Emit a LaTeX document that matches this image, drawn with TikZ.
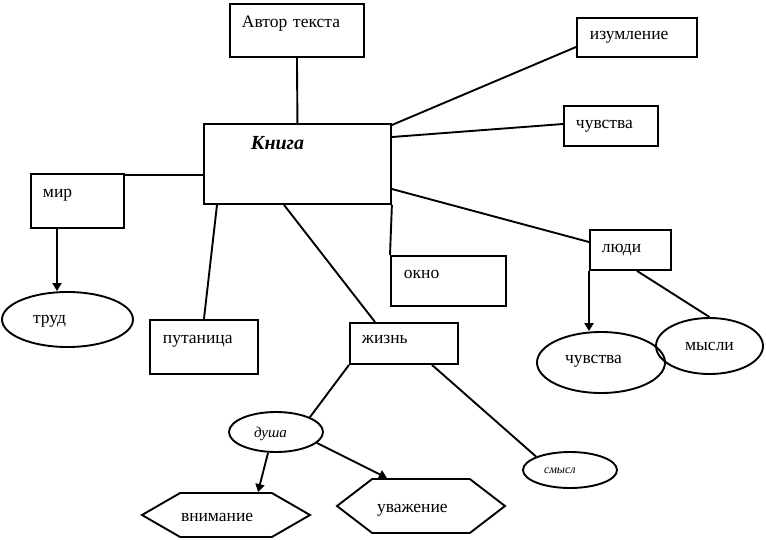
\documentclass[tikz,border=0pt]{standalone}
\usepackage{fontspec}
\setmainfont{Liberation Serif}
\usetikzlibrary{shapes.geometric,shapes.symbols,arrows.meta}
\begin{document}
\begin{tikzpicture}[x=1pt,y=-1pt,
  every node/.style={font=\fontsize{17.5}{20}\selectfont},
  tbox/.style={draw, rectangle, anchor=north west, inner ysep=0pt, align=left, line width=1.9pt},
  oval/.style={draw, ellipse, inner sep=0pt, line width=1.9pt},
  hexa/.style={draw, signal, signal to=west and east, inner sep=0pt, line width=1.9pt},
  conn/.style={line width=1.9pt},
  arr/.style={conn, -{Triangle[length=8pt,width=9pt]}}]
\useasboundingbox (0,0) rectangle (766,539);
% boxes
\node[tbox, inner xsep=12pt, text width=110pt, text height=24pt, text depth=29pt] (autor) at (229,3) {Автор текста};
\node[tbox, inner xsep=47pt, text width=93pt, text height=26pt, text depth=54pt, font=\fontsize{20}{24}\selectfont\bfseries\itshape] (kniga) at (203,123) {Книга};
\node[tbox, inner xsep=12pt, text width=69pt, text height=24pt, text depth=30pt] (mir) at (30,173) {мир};
\node[tbox, inner xsep=13pt, text width=94pt, text height=22pt, text depth=17pt] (izum) at (576,17) {изумление};
\node[tbox, inner xsep=12pt, text width=70pt, text height=23pt, text depth=17pt] (chuv) at (563,105) {чувства};
\node[tbox, inner xsep=12pt, text width=57pt, text height=23pt, text depth=17pt] (lyudi) at (589,229) {люди};
\node[tbox, inner xsep=13pt, text width=89pt, text height=23pt, text depth=27pt] (okno) at (390,255) {окно};
\node[tbox, inner xsep=13pt, text width=82pt, text height=24pt, text depth=30pt] (putan) at (149,319) {путаница};
\node[tbox, inner xsep=12pt, text width=84pt, text height=21pt, text depth=20pt] (zhizn) at (349,322) {жизнь};
% ellipses
\node[oval, minimum width=131pt, minimum height=55pt, text width=69pt, align=left, text height=11pt, text depth=4pt] (trud) at (67.5,319.5) {труд};
\node[oval, minimum width=128pt, minimum height=61pt, text width=72pt, align=left, text height=8pt, text depth=6pt] (chuv2) at (601,362.5) {чувства};
\node[oval, minimum width=107pt, minimum height=56pt, text height=12pt, text depth=4pt] (mysli) at (709.5,346) {мысли};
\node[oval, minimum width=94pt, minimum height=36pt, text width=52pt, align=left, text height=9pt, text depth=3pt, font=\fontsize{12}{14}\selectfont\itshape] (smysl) at (570,470) {смысл};
\node[oval, minimum width=94pt, minimum height=40pt, text width=44pt, align=left, text height=12pt, text depth=2pt, font=\fontsize{15}{18}\selectfont\itshape] (dusha) at (276,432) {душа};
% hexagons
\node[hexa, signal pointer angle=60, minimum width=168pt, minimum height=44pt, text width=90pt, align=left, text height=14pt, text depth=2pt] (vnim) at (226,515) {внимание};
\node[hexa, signal pointer angle=75, minimum width=168pt, minimum height=54pt, text width=88pt, align=left, text height=14pt, text depth=2pt] (uvazh) at (421,506) {уважение};
% connectors
\coordinate (m1) at ([xshift=27pt]mir.south west);
\coordinate (l1) at (lyudi.south west);
\draw[conn] (autor.south) -- (kniga.north);
\draw[conn] ([yshift=-2pt]mir.north east) -- ([yshift=-2pt]mir.north east -| kniga.west);
\draw[arr] (m1) -- (m1 |- trud.north);
\draw[conn] ([xshift=14pt]kniga.south west) -- (putan.north);
\draw[conn] ([xshift=81pt]kniga.south west) -- ([xshift=26pt]zhizn.north west);
\draw[conn] (kniga.south east) -- (okno.north west);
\draw[conn] ([yshift=-2pt]kniga.north east) -- ([yshift=-30pt]izum.north west);
\draw[conn] ([yshift=-14pt]kniga.north east) -- ([yshift=-19pt]chuv.north west);
\draw[conn] ([yshift=-66pt]kniga.north east) -- ([yshift=-13pt]lyudi.north west);
\draw[arr] (l1) -- (l1 |- chuv2.north);
\draw[conn] ([xshift=48pt]lyudi.south west) -- (mysli.north);
\draw[conn] (zhizn.south west) -- (dusha.north east);
\draw[conn] ([xshift=83pt]zhizn.south west) -- (smysl.north west);
\draw[arr] ([xshift=-8pt]dusha.south) -- ([xshift=32pt]vnim.north);
\draw[arr] (dusha.-15) -- ([xshift=-34pt]uvazh.north);
\end{tikzpicture}
\end{document}
